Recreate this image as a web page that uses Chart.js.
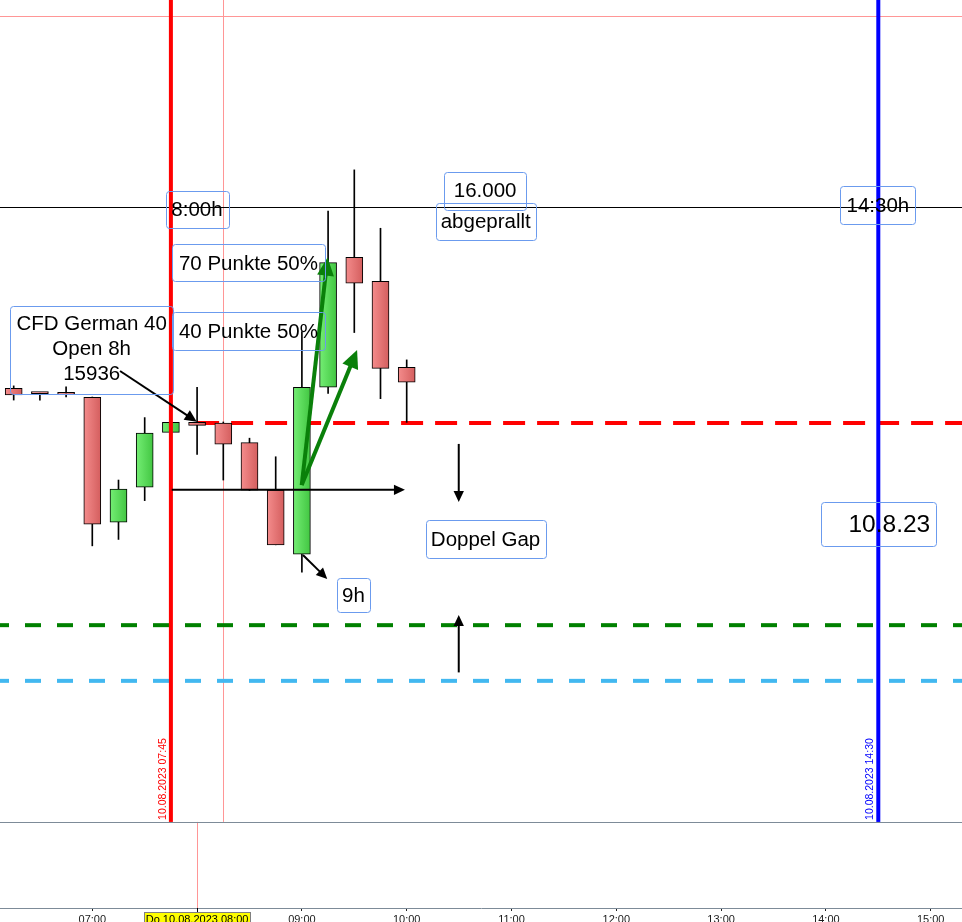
<!DOCTYPE html>
<html><head><meta charset="utf-8">
<style>html,body{margin:0;padding:0;background:#fff;overflow:hidden}canvas{display:block}</style>
<script src="https://cdn.jsdelivr.net/npm/chart.js@4.4.0/dist/chart.umd.min.js"></script>
</head><body>
<canvas id="c" width="962" height="922"></canvas>
<script>
// ---- data (15-minute candles, CFD German 40, 10.08.2023) ----
const times  = ['06:15','06:30','06:45','07:00','07:15','07:30','07:45','08:00','08:15','08:30','08:45','09:00','09:15','09:30','09:45','10:00'];
const opens  = [15946.3,15944.8,15944.6,15943.6,15906.6,15917.0,15933.2,15936.2,15936.0,15930.2,15916.1,15897.1,15946.6,15985.1,15978.0,15952.5];
const highs  = [15947.0,15944.9,15946.7,15943.7,15919.1,15937.6,15936.5,15946.6,15936.3,15931.5,15926.0,15963.1,15998.8,16011.0,15993.7,15954.7];
const lows   = [15942.8,15942.8,15943.7,15899.6,15901.5,15913.0,15932.8,15926.7,15919.1,15916.0,15899.9,15891.8,15944.8,15962.8,15943.2,15936.2];
const closes = [15944.3,15944.7,15944.5,15906.0,15916.4,15933.0,15936.2,15935.3,15929.7,15916.1,15899.9,15946.6,15983.5,15977.4,15952.2,15948.1];

// axis range (minutes since midnight / price)
const xMin = 367.16, xMax = 917.92;
const yMin = 15792.3, yMax = 16061.33;
const panelBottom = 15817.8;
const specialTick = 480;
const specialTickLabel = 'Do 10.08.2023 08:00';

// horizontal levels
const levelPinkTop = 16056.6;
const levelRound = 16000;
const levelOpen8 = 15936.0;
const levelGreen = 15876.1;
const levelBlue = 15859.6;

// vertical markers
const markerTimes  = ['07:45','14:30'];
const markerLabels = ['10.08.2023 07:45','10.08.2023 14:30'];
const markerColors = ['#ff0000','#0000ff'];
const crossTop = '08:15', crossBottom = '08:00';

// annotation text boxes (time in minutes, price)
const boxes = [
 {lines:['8:00h'], t0:462.0, t1:497.9, p0:16004.8, p1:15993.7},
 {lines:['16.000'], t0:621.5, t1:668.3, p0:16010.5, p1:15999.3},
 {lines:['abgeprallt'], t0:616.6, t1:673.9, p0:16001.3, p1:15990.2},
 {lines:['70 Punkte 50%'], t0:465.6, t1:553.2, p0:15988.9, p1:15977.8},
 {lines:['40 Punkte 50%'], t0:465.6, t1:553.2, p0:15969.0, p1:15957.6},
 {lines:['CFD German 40','Open 8h','15936'], t0:372.9, t1:466.4, p0:15970.7, p1:15944.5},
 {lines:['Doppel Gap'], t0:610.9, t1:679.4, p0:15907.3, p1:15895.9},
 {lines:['9h'], t0:560.1, t1:579.0, p0:15890.1, p1:15880.0},
 {lines:['14:30h'], t0:848.3, t1:891.2, p0:16006.2, p1:15995.0},
 {lines:['10.8.23'], t0:837.0, t1:902.6, p0:15912.5, p1:15899.4, size:24.5, align:'right'}
];
// arrows (from -> to, minutes / price)
const arrows = [
 {t0:435.9, p0:15951.4, t1:479.8, p1:15936.4, color:'#000', w:2, head:12},
 {t0:465.5, p0:15916.2, t1:599.0, p1:15916.2, color:'#000', w:2, head:11},
 {t0:539.9, p0:15917.6, t1:554.7, p1:15985.0, color:'#0a800a', w:4, head:18},
 {t0:539.9, p0:15917.6, t1:571.6, p1:15957.6, color:'#0a800a', w:4, head:18},
 {t0:540.6, p0:15896.9, t1:554.5, p1:15889.8, color:'#000', w:2, head:11},
 {t0:629.8, p0:15929.8, t1:629.8, p1:15912.6, color:'#000', w:2, head:11},
 {t0:629.8, p0:15862.1, t1:629.8, p1:15879.1, color:'#000', w:2, head:11}
];

const FONT = "'Liberation Sans', Arial, sans-serif";
function toMin(s){const [h,m]=s.split(':').map(Number);return h*60+m;}
function fmt(v){const h=Math.floor(v/60), m=v%60;return String(h).padStart(2,'0')+':'+String(m).padStart(2,'0');}

function bodyColor(c){
  const i = c.dataIndex;
  if (i === undefined) return '#e67070';
  const up = closes[i] >= opens[i];
  const chart = c.chart, xs = chart.scales && chart.scales.x;
  if (!xs || !chart.chartArea) return up ? '#5cd85c' : '#e67070';
  const px = xs.getPixelForValue(toMin(times[i]));
  const g = chart.ctx.createLinearGradient(px-8.5,0,px+8.5,0);
  if (up){ g.addColorStop(0,'#74ee74'); g.addColorStop(1,'#42c642'); }
  else   { g.addColorStop(0,'#f48c8c'); g.addColorStop(1,'#d45e5e'); }
  return g;
}

function arrow(ctx,x0,y0,x1,y1,color,w,head){
  const dx=x1-x0, dy=y1-y0, L=Math.hypot(dx,dy), ux=dx/L, uy=dy/L;
  const bx=x1-ux*head, by=y1-uy*head, hw=head*0.47;
  ctx.save();
  ctx.strokeStyle=color; ctx.fillStyle=color; ctx.lineWidth=w; ctx.setLineDash([]);
  ctx.beginPath(); ctx.moveTo(x0,y0); ctx.lineTo(bx+ux*1,by+uy*1); ctx.stroke();
  ctx.beginPath(); ctx.moveTo(x1,y1); ctx.lineTo(bx-uy*hw,by+ux*hw); ctx.lineTo(bx+uy*hw,by-ux*hw); ctx.closePath(); ctx.fill();
  ctx.restore();
}
function rrect(ctx,x,y,w,h,r){
  ctx.beginPath();
  ctx.moveTo(x+r,y); ctx.lineTo(x+w-r,y); ctx.quadraticCurveTo(x+w,y,x+w,y+r);
  ctx.lineTo(x+w,y+h-r); ctx.quadraticCurveTo(x+w,y+h,x+w-r,y+h);
  ctx.lineTo(x+r,y+h); ctx.quadraticCurveTo(x,y+h,x,y+h-r);
  ctx.lineTo(x,y+r); ctx.quadraticCurveTo(x,y,x+r,y); ctx.closePath();
}

const overlay = {
  id:'overlay',
  beforeDatasetsDraw(chart){
    const {ctx, chartArea:a, scales:{x,y}} = chart;
    const yp = y.getPixelForValue(panelBottom);
    ctx.save();
    // thin crosshair lines
    ctx.strokeStyle='#ff9696'; ctx.lineWidth=1;
    ctx.beginPath(); ctx.moveTo(a.left, Math.round(y.getPixelForValue(levelPinkTop))+0.5); ctx.lineTo(a.right, Math.round(y.getPixelForValue(levelPinkTop))+0.5); ctx.stroke();
    const xc = Math.round(x.getPixelForValue(toMin(crossTop)))+0.5;
    ctx.beginPath(); ctx.moveTo(xc,a.top); ctx.lineTo(xc,yp); ctx.stroke();
    const xb = Math.round(x.getPixelForValue(toMin(crossBottom)))+0.5;
    ctx.beginPath(); ctx.moveTo(xb,yp); ctx.lineTo(xb,a.bottom); ctx.stroke();
    // round number line
    ctx.strokeStyle='#000'; ctx.lineWidth=1;
    const yr = Math.round(y.getPixelForValue(levelRound))+0.5;
    ctx.beginPath(); ctx.moveTo(a.left,yr); ctx.lineTo(a.right,yr); ctx.stroke();
    // dashed levels
    ctx.lineWidth=4;
    ctx.strokeStyle='#ff0000'; ctx.setLineDash([22,12]); ctx.lineDashOffset=0;
    const yo=y.getPixelForValue(levelOpen8);
    ctx.beginPath(); ctx.moveTo(x.getPixelForValue(specialTick),yo); ctx.lineTo(a.right,yo); ctx.stroke();
    ctx.setLineDash([16,16]); ctx.lineDashOffset=7;
    ctx.strokeStyle='#008000';
    const yg=y.getPixelForValue(levelGreen);
    ctx.beginPath(); ctx.moveTo(a.left,yg); ctx.lineTo(a.right,yg); ctx.stroke();
    ctx.strokeStyle='#42b8f0';
    const yb=y.getPixelForValue(levelBlue);
    ctx.beginPath(); ctx.moveTo(a.left,yb); ctx.lineTo(a.right,yb); ctx.stroke();
    ctx.setLineDash([]);
    // panel separator
    ctx.strokeStyle='#7d8b98'; ctx.lineWidth=1;
    ctx.beginPath(); ctx.moveTo(a.left,Math.round(yp)+0.5); ctx.lineTo(a.right,Math.round(yp)+0.5); ctx.stroke();
    ctx.restore();
  },
  afterDatasetsDraw(chart){
    const {ctx, chartArea:a, scales:{x,y}} = chart;
    const yp = y.getPixelForValue(panelBottom);
    ctx.save();
    // vertical markers
    markerTimes.forEach((t,i)=>{
      const px = x.getPixelForValue(toMin(t));
      ctx.fillStyle=markerColors[i];
      ctx.fillRect(px-2,a.top,4,yp-a.top);
      ctx.save();
      ctx.translate(px-8, yp-2); ctx.rotate(-Math.PI/2);
      ctx.font='10.5px '+FONT; ctx.textAlign='left'; ctx.textBaseline='middle';
      ctx.fillText(markerLabels[i],0,0);
      ctx.restore();
    });
    // arrows
    arrows.forEach(r=>arrow(ctx,x.getPixelForValue(r.t0),y.getPixelForValue(r.p0),x.getPixelForValue(r.t1),y.getPixelForValue(r.p1),r.color,r.w,r.head));
    // boxes
    boxes.forEach(b=>{
      const x0=x.getPixelForValue(b.t0), x1=x.getPixelForValue(b.t1);
      const y0=y.getPixelForValue(b.p0), y1=y.getPixelForValue(b.p1);
      ctx.strokeStyle='#6b9bee'; ctx.lineWidth=1;
      rrect(ctx,Math.round(x0)+0.5,Math.round(y0)+0.5,Math.round(x1-x0),Math.round(y1-y0),3); ctx.stroke();
      const size=b.size||20.5;
      ctx.font=size+'px '+FONT; ctx.fillStyle='#000'; ctx.textBaseline='middle';
      const lh=25, n=b.lines.length, cy=(y0+y1)/2 - (n>1?1.5:0);
      b.lines.forEach((s,k)=>{
        const ty = cy + (k-(n-1)/2)*lh + 1;
        if (b.align==='right'){ ctx.textAlign='right'; ctx.fillText(s,x1-5,ty); }
        else { ctx.textAlign='center'; ctx.fillText(s,(x0+x1)/2,ty); }
      });
    });
    ctx.restore();
  },
  afterDraw(chart){
    const {ctx, chartArea:a, scales:{x}} = chart;
    const px = x.getPixelForValue(specialTick);
    ctx.save();
    ctx.font='11px '+FONT;
    const w = ctx.measureText(specialTickLabel).width + 3;
    ctx.fillStyle='#ffff00'; ctx.fillRect(Math.round(px-w/2)+0.5, a.bottom+4.5, Math.round(w), 20);
    ctx.strokeStyle='#808080'; ctx.lineWidth=1; ctx.strokeRect(Math.round(px-w/2)+0.5, a.bottom+4.5, Math.round(w), 20);
    ctx.fillStyle='#000'; ctx.textAlign='center'; ctx.textBaseline='top';
    ctx.fillText(specialTickLabel, px, a.bottom+6);
    ctx.strokeStyle='#000';
    ctx.beginPath(); ctx.moveTo(Math.round(px)+0.5,a.bottom); ctx.lineTo(Math.round(px)+0.5,a.bottom+4); ctx.stroke();
    ctx.restore();
  }
};

const xs = times.map(toMin);
new Chart(document.getElementById('c'), {
  type:'bar',
  data:{
    datasets:[
      {label:'wick', data: xs.map((t,i)=>({x:t, y:[lows[i], highs[i]]})), backgroundColor:'#000', borderWidth:0, barThickness:1, grouped:false, order:2},
      {label:'body', data: xs.map((t,i)=>({x:t, y:[opens[i], closes[i]]})), backgroundColor: bodyColor, borderColor:'#000', borderWidth:1, borderSkipped:false, barThickness:17, minBarLength:2, grouped:false, order:1}
    ]
  },
  options:{
    responsive:false, animation:false, events:[],
    layout:{padding:0},
    plugins:{legend:{display:false}, tooltip:{enabled:false}},
    scales:{
      x:{type:'linear', min:xMin, max:xMax, offset:false,
         grid:{display:true, drawOnChartArea:false, drawTicks:true, tickLength:3, color:'#222', offset:false},
         border:{display:true, color:'#7d8b98', width:1},
         ticks:{stepSize:60, includeBounds:false, autoSkip:false, maxRotation:0, padding:2, color:'#1a1a1a',
                font:{family:FONT, size:11}, callback:v=> v===specialTick ? '' : fmt(v)},
         afterFit:s=>{ s.height=14; }},
      y:{display:false, min:yMin, max:yMax}
    }
  },
  plugins:[overlay]
});
</script>
</body></html>
